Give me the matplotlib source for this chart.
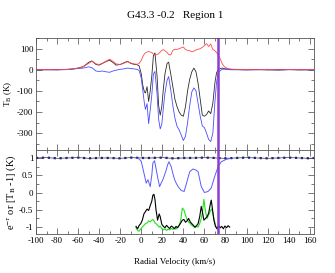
import matplotlib
matplotlib.use('Agg')
from matplotlib import pyplot as plt
from matplotlib.ticker import MultipleLocator

plt.rcParams['font.family'] = 'Liberation Serif'
plt.rcParams['mathtext.fontset'] = 'stix'
plt.rcParams['axes.unicode_minus'] = False

# ---------------- top panel: brightness temperature ----------------
v_top = [-100, -90, -80, -70, -65, -60, -55, -50, -47, -43, -40, -37, -33, -30,
         -27, -24, -20, -17, -13, -10, -7, -4, -2, 0, 1.5, 3, 4, 5.5, 7, 8.5,
         10, 11.5, 13, 15, 16.5, 18, 19.5, 21, 22.5, 24.5, 26, 28, 30, 32, 34,
         36, 38, 40, 42, 44, 46, 48, 50, 52, 54, 56, 58, 60, 62, 64, 66, 68,
         70, 71.5, 73, 75, 77, 79, 82, 85, 90, 100, 110, 120, 130, 140, 150,
         160, 164]

t_red = [0, 1, 0, 2, 4, 8, 15, 30, 40, 28, 25, 30, 42, 50,
         40, 28, 25, 30, 38, 32, 28, 26, 30, 45, 62, 75, 80, 84, 86, 84,
         82, 74, 70, 72, 76, 84, 92, 95, 90, 82, 72, 70, 92, 97, 96,
         100, 104, 108, 96, 92, 90, 86, 88, 94, 97, 100, 106, 115, 124, 110, 122, 96,
         90, 82, 70, 52, 28, 14, 6, 3, 2, 1, 0, 2, -1, 1, 0,
         1, 0]

t_black = [0, 0, 1, 2, 4, 8, 15, 35, 42, 25, 22, 30, 40, 45,
           35, 22, 25, 32, 40, 30, 26, 24, 18, -20, -75, -105, -110, -80, -150, -100,
           -30, 65, 80, -30, -170, -215, -175, -90, -20, 30, 36, -20, -80, -140, -175,
           -200, -215, -220, -175, -100, -45, -10, 8, -10, -65, -140, -215, -220, -212, -195, -208, -158,
           -60, -15, 0, 6, 8, 5, 3, 2, 1, 0, 1, -1, 0, 1, -1,
           0, 0]

t_blue = [0, 0, -1, 1, 3, 6, 8, 14, 10, -6, -8, -6, -10, -12,
          -6, -2, 2, 4, 8, 6, 4, 2, -4, -40, -100, -160, -188, -160, -255, -190,
          -120, -20, -8, -115, -235, -280, -258, -180, -110, -50, -32, -95, -170, -230, -268,
          -285, -310, -335, -315, -250, -170, -105, -86, -100, -160, -220, -266, -274, -300, -330, -340, -300,
          -150, -60, -16, -4, 2, 3, 1, 0, 0, -1, 0, 1, -2, 0, 1,
          -1, 0]

# ---------------- bottom panel ----------------
v_unity = [-100, -90, -80, -70, -60, -50, -40, -30, -20, -10, 0, 10, 20, 30,
           40, 50, 60, 70, 80, 90, 100, 110, 120, 130, 140, 150, 160, 164]
unity = [1.0, 1.01, 0.99, 1.0, 1.01, 0.99, 1.0, 1.0, 0.99, 1.01, 1.0, 1.0, 1.01, 0.99,
         1.0, 1.0, 1.01, 1.0, 0.99, 1.0, 1.01, 1.0, 0.99, 1.0, 1.01, 1.0, 0.99, 1.0]

v_tau = [-5, -2, 0, 1.5, 3, 4.7, 6.3, 8.5, 10, 11, 12.6, 14, 15.5, 17.4, 19,
         20.5, 22, 23.7, 25, 26.3, 28.5, 30, 31.7, 33.5, 35, 38, 40.7, 43, 46,
         49, 52, 54, 57, 60, 63.4, 66.5, 69.7, 72.9, 76, 80.7, 85]
tau = [1.0, 0.97, 0.9, 0.7, 0.5, 0.27, 0.37, 0.17, 0.5, 0.85, 0.92, 0.7, 0.45,
       0.17, 0.28, 0.37, 0.5, 0.65, 0.8, 0.89, 0.74, 0.55, 0.37, 0.25, 0.17,
       0.06, 0.03, 0.27, 0.6, 0.68, 0.65, 0.6, 0.17, 0.0, 0.03, 0.13, 0.46,
       0.74, 0.89, 0.96, 0.99]

v_abs = [-5, -3.5, -2, -0.5, 1, 2.5, 4, 5.5, 7, 8.5, 10, 11, 12, 13, 14, 15.5,
         17, 18, 19.5, 21, 22.5, 24, 25.5, 27, 28.5, 30, 31.5, 33, 34.5, 36,
         37.5, 39, 40.5, 42, 43.5, 45, 46.5, 48, 49.5, 51, 52.5, 54, 55.5, 57,
         58, 59.5, 61, 62.5, 64, 65.5, 66.5, 67.5, 69, 70.5, 72, 73.5, 75,
         76.5, 78, 79.5, 81, 82.5, 84]
abs_black = [-0.98, -1.05, -0.95, -0.9, -0.8, -0.62, -0.55, -0.48, -0.52, -0.38,
             -0.25, -0.08, -0.05, -0.2, -0.5, -0.8, -0.62, -0.7, -0.92, -0.98,
             -1.02, -0.95, -1.0, -1.04, -0.97, -1.0, -1.05, -0.98, -1.02, -0.95,
             -0.88, -0.8, -0.78, -0.86, -0.82, -0.75, -0.85, -0.9, -0.95, -1.0,
             -0.96, -0.9, -0.7, -0.4, -0.55, -0.8, -0.75, -0.7, -0.6, -0.35,
             -0.22, -0.45, -0.8, -0.98, -1.05, -0.95, -1.02, -0.98, -1.05, -0.97,
             -1.02, -0.96, -1.0]

v_green = v_abs[:56]
abs_green = [-1.02, -1.1, -1.12, -1.05, -1.0, -0.95, -0.9, -0.88, -0.82, -0.85,
             -0.8, -0.78, -0.82, -0.88, -0.9, -0.95, -1.0, -0.97, -1.05, -1.08,
             -1.05, -1.1, -1.06, -1.08, -1.04, -1.07, -1.03, -1.06, -1.0, -0.95,
             -0.8, -0.45, -0.5, -0.65, -0.78, -0.85, -0.9, -0.95, -0.98, -1.02,
             -0.98, -1.0, -0.9, -0.75, -0.6, -0.2, -0.55, -0.75, -0.65, -0.55,
             -0.48, -0.52, -0.75, -0.95, -1.05, -1.0]

v_marker = 72.5

fig = plt.figure(dpi=100, figsize=(3.35, 2.73))
ax1 = fig.add_axes([0.1075, 0.4505, 0.8295, 0.410])
ax2 = fig.add_axes([0.1075, 0.1429, 0.8295, 0.3076])

ax1.plot(v_top, t_black, c='#2a2a2a', linewidth=0.6)
ax1.plot(v_top, t_blue, c='#4a4aff', linewidth=0.6)
ax1.plot(v_top, t_red, c='#ff4a4a', linewidth=0.6)
ax1.axvline(v_marker, c='#8a3fd0', linewidth=1.8)
ax1.set_xlim(-100, 164)
ax1.set_ylim(-380, 150)
ax1.yaxis.set_major_locator(MultipleLocator(100))
ax1.yaxis.set_minor_locator(MultipleLocator(50))
ax1.set_ylabel(r'T$_{\rm B}$ (K)', fontsize=6.5, labelpad=2)
ax1.tick_params(labelbottom=False)

ax2.plot(v_unity, unity, c='#1a1aa0', linewidth=1.6, linestyle=':')
ax2.plot(v_unity, unity, c='#333333', linewidth=0.5)
ax2.plot(v_tau, tau, c='#5a5aff', linewidth=0.7)
ax2.plot(v_green, abs_green, c='#20e020', linewidth=0.8)
ax2.plot(v_abs, abs_black, c='black', linewidth=0.8)
ax2.axvline(v_marker, c='#8a3fd0', linewidth=1.8)
ax2.set_xlim(-100, 164)
ax2.set_ylim(-1.2, 1.23)
ax2.yaxis.set_minor_locator(MultipleLocator(0.25))
ax2.set_yticks([-1, -0.5, 0, 0.5, 1])
ax2.set_yticklabels(['-1', '-0.5', '0', '0.5', '1'])
ax2.set_ylabel(r'e$^{-\tau}$ or [T$_{\rm B}$ -1] (K)', fontsize=7.5, labelpad=1)

for ax in (ax1, ax2):
    ax.xaxis.set_major_locator(MultipleLocator(20))
    ax.xaxis.set_minor_locator(MultipleLocator(10))
    ax.tick_params(which='both', direction='in', top=True, right=True,
                   labelsize=6.5, pad=2, width=0.5, color='#444444')
    ax.tick_params(which='major', length=4)
    ax.tick_params(which='minor', length=2)
    for s in ax.spines.values():
        s.set_linewidth(0.6)
        s.set_color('#555555')

fig.text(0.5225, 0.945, 'G43.3 -0.2   Region 1', ha='center', va='center', fontsize=8)
fig.text(0.5225, 0.04, 'Radial Velocity (km/s)', ha='center', va='center', fontsize=6.5)

plt.savefig('out.png', dpi=100)
